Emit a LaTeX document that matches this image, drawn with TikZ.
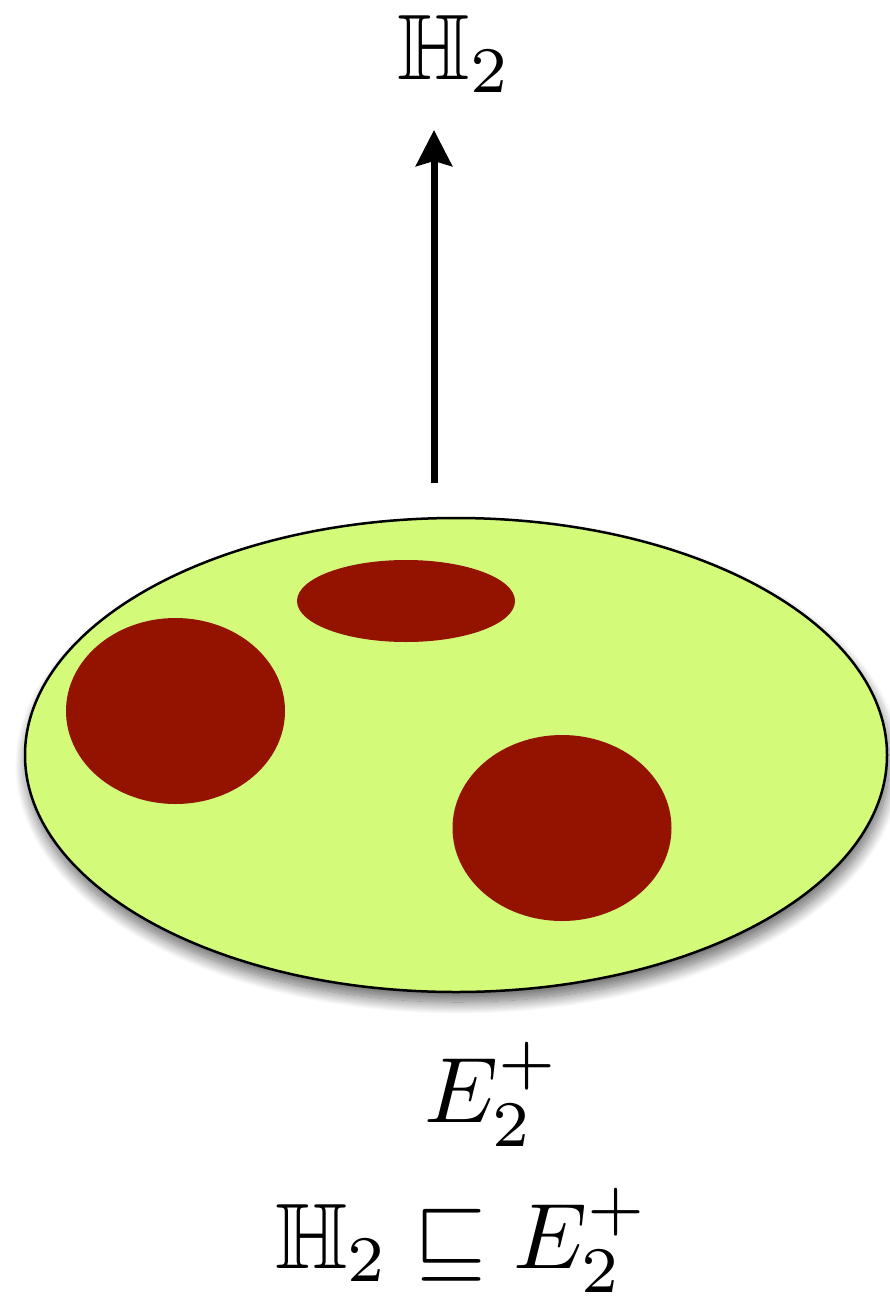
\documentclass[tikz,border=0pt]{standalone}
\usepackage{amsmath,amssymb}
\usetikzlibrary{arrows.meta,shapes.geometric,shadows.blur}
\definecolor{blobgreen}{HTML}{D4FA7A}
\definecolor{spotred}{HTML}{931300}
\tikzset{
  bigtext/.style={font=\fontsize{10}{12}\selectfont, scale=9.3, transform shape, inner sep=0pt, anchor=base},
  spot/.style={ellipse, fill=spotred, draw=none, inner sep=0pt},
}
\begin{document}
\begin{tikzpicture}[x=1pt,y=-1pt]
\useasboundingbox (0,0) rectangle (889,1296);
% big ellipse with blurred shadow
\node[ellipse, draw=black, line width=2.5pt, fill=blobgreen, inner sep=0pt,
      minimum width=862pt, minimum height=474pt,
      blur shadow={shadow xshift=2pt, shadow yshift=-10pt, shadow blur radius=12pt, shadow blur steps=20, shadow opacity=60}]
  (set) at (456,755) {};
% red regions
\node[spot, minimum width=218pt, minimum height=82pt] (s1) at (406,601) {};
\node[spot, minimum width=219pt, minimum height=186pt] (s2) at (175.5,711) {};
\node[spot, minimum width=219pt, minimum height=186pt] (s3) at (562,828) {};
% labels
\node[bigtext] (top) at (455,79) {$\mathbb{H}_2$};
\node[bigtext] (elab) at (492,1122) {$E_2^+$};
\node[bigtext] (rel) at (462,1268) {$\mathbb{H}_2 \sqsubseteq E_2^+$};
% arrow
\coordinate (astart) at (434,483);
\coordinate (aend) at (434,130);
\draw[line width=7pt, -{Stealth[length=36pt, width=36pt, inset=5pt]}] (astart) -- (aend);
\end{tikzpicture}
\end{document}
